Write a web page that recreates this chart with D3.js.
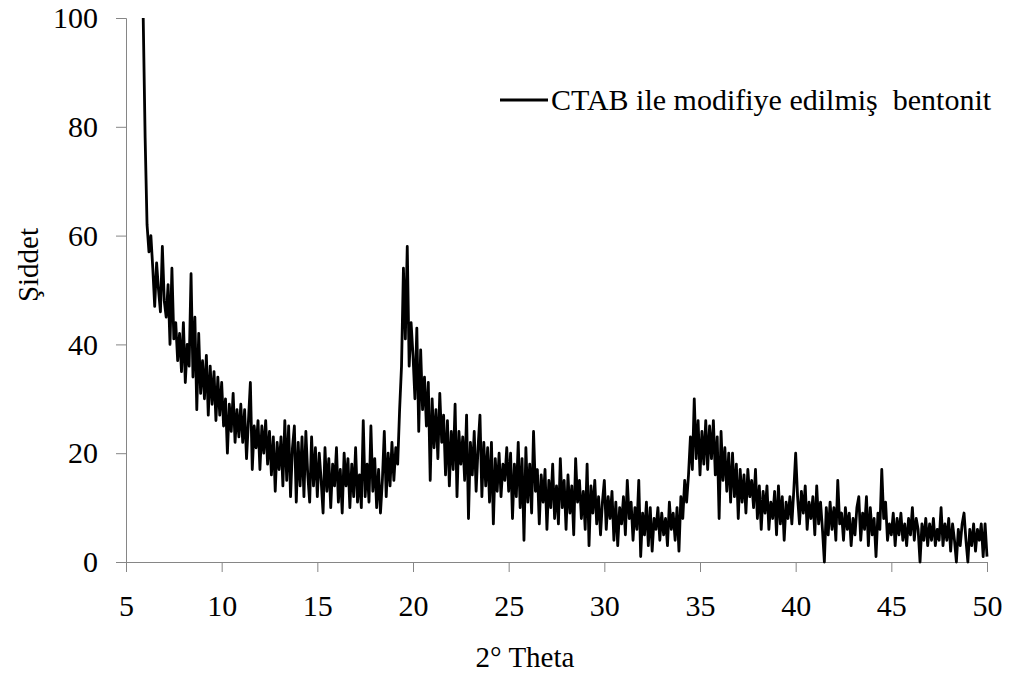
<!DOCTYPE html>
<html>
<head>
<meta charset="utf-8">
<script src="https://cdn.jsdelivr.net/npm/d3@7"></script>
<style>
  body { margin: 0; background: #fff; }
  text { font-family: "Liberation Serif", "Times New Roman", serif; fill: #000; }
</style>
</head>
<body>
<script>
"use strict";

// XRD scan, step 0.1 degree, intensities
var scanStep = 0.1;
var bandStarts = [5.9, 10, 15, 20, 25, 30, 35, 40, 45];

var band05 = [100, 78, 62, 57, 60, 54, 47, 55, 50, 46, 58,
  48, 45, 51, 40, 54, 41, 44, 37, 42, 35,
  44, 33, 40, 36, 53, 34, 45, 28, 42, 31,
  37, 30, 38, 27, 36, 29, 35, 26, 34, 27];
var band10 = [33, 25, 30, 20, 29, 24, 31, 22, 28, 23,
  29, 22, 28, 19, 26, 33, 17, 25, 21, 26,
  17, 25, 20, 26, 18, 24, 16, 23, 13, 22,
  17, 23, 14, 26, 15, 25, 12, 21, 25, 11,
  22, 14, 23, 12, 24, 16, 11, 23, 14, 21];
var band15 = [12, 20, 15, 9, 21, 13, 19, 10, 18, 14,
  21, 11, 17, 9, 20, 14, 19, 10, 18, 12,
  21, 11, 16, 10, 26, 12, 18, 11, 25, 13,
  19, 10, 17, 9, 15, 24, 12, 20, 14, 22,
  15, 21, 18, 28, 36, 54, 41, 58, 36, 44];
var band20 = [38, 30, 43, 24, 39, 28, 34, 25, 33, 15,
  30, 21, 28, 19, 31, 22, 27, 16, 26, 14,
  24, 17, 29, 12, 24, 18, 23, 15, 27, 8,
  22, 16, 24, 13, 21, 27, 12, 22, 14, 21,
  11, 22, 7, 19, 13, 20, 12, 18, 15, 21];
var band25 = [13, 20, 8, 18, 12, 22, 10, 19, 4, 21,
  11, 18, 9, 24, 13, 17, 7, 16, 11, 17,
  6, 15, 10, 18, 8, 14, 7, 19, 10, 15,
  6, 16, 9, 14, 5, 19, 11, 15, 8, 13,
  6, 18, 3, 14, 9, 15, 7, 12, 5, 11];
var band30 = [15, 6, 12, 8, 13, 4, 11, 3, 10, 7,
  12, 5, 15, 8, 11, 4, 10, 6, 15, 1,
  9, 5, 11, 3, 10, 2, 8, 6, 10, 4,
  9, 5, 8, 3, 11, 6, 9, 4, 10, 2,
  12, 8, 15, 11, 16, 23, 17, 30, 19, 26];
var band35 = [16, 24, 18, 26, 17, 25, 19, 26, 16, 23,
  8, 24, 15, 21, 13, 20, 11, 20, 12, 18,
  8, 17, 11, 16, 9, 17, 12, 15, 10, 17,
  8, 14, 6, 13, 9, 14, 6, 11, 8, 13,
  5, 14, 7, 12, 4, 11, 8, 12, 7, 13];
var band40 = [20, 12, 7, 13, 9, 14, 6, 11, 8, 12,
  5, 14, 7, 11, 6, 0, 10, 5, 11, 6,
  10, 4, 15, 7, 9, 4, 10, 6, 9, 3,
  8, 5, 10, 12, 4, 9, 6, 12, 3, 10,
  5, 8, 1, 9, 6, 17, 8, 11, 4, 7];
var band45 = [5, 9, 3, 8, 5, 9, 4, 7, 3, 8,
  5, 10, 4, 8, 6, 0, 7, 4, 8, 3,
  7, 4, 8, 3, 6, 4, 10, 3, 7, 4,
  8, 2, 7, 4, 0, 6, 3, 7, 9, 4,
  0, 6, 3, 7, 2, 6, 4, 7, 1, 7, 1];

var xTicks = [5, 10, 15, 20, 25, 30, 35, 40, 45, 50];
var yTicks = [0, 20, 40, 60, 80, 100];
var seriesName = "CTAB ile modifiye edilmiş  bentonit";

var bands = [band05, band10, band15, band20, band25, band30, band35, band40, band45];
var data = [];
bands.forEach(function (b, k) {
  b.forEach(function (v, i) {
    data.push([+(bandStarts[k] + i * scanStep).toFixed(2), v]);
  });
});

var width = 1009;
var height = 684;
var plotLeft = 126, plotRight = 987, plotTop = 18, plotBottom = 562;
var serif = '"Liberation Serif", "Times New Roman", serif';

var svg = d3.select("body").append("svg").attr("width", width).attr("height", height);

var xScale = d3.scaleLinear().domain([5, 50]).range([plotLeft, plotRight]);
var yScale = d3.scaleLinear().domain([0, 100]).range([plotBottom, plotTop]);

var axisColor = "#868686";

var xAxis = d3.axisBottom(xScale).tickValues(xTicks).tickSize(10).tickPadding(23);
var gx = svg.append("g").attr("transform", "translate(0," + plotBottom + ")").call(xAxis);
var yAxis = d3.axisLeft(yScale).tickValues(yTicks).tickSize(10).tickPadding(18);
var gy = svg.append("g").attr("transform", "translate(" + plotLeft + ",0)").call(yAxis);

[gx, gy].forEach(function (g) {
  g.attr("font-family", serif);
  g.select(".domain").attr("stroke", axisColor);
  g.selectAll(".tick line").attr("stroke", axisColor);
  g.selectAll("text").style("font-family", serif).style("font-size", "30px").attr("fill", "#000");
});

var line = d3.line().x(function (d) { return xScale(d[0]); }).y(function (d) { return yScale(d[1]); });

svg.append("path").datum(data).attr("d", line)
  .attr("fill", "none").attr("stroke", "#000").attr("stroke-width", 2.8).attr("stroke-linejoin", "round");

// axis titles
svg.append("text").attr("x", 525).attr("y", 667).attr("text-anchor", "middle")
  .style("font-family", serif).style("font-size", "29px").text("2° Theta");
svg.append("text").attr("transform", "translate(38,265) rotate(-90)").attr("text-anchor", "middle")
  .style("font-family", serif).style("font-size", "29px").text("Şiddet");

// legend
svg.append("line").attr("x1", 500).attr("x2", 548).attr("y1", 100).attr("y2", 100)
  .attr("stroke", "#000").attr("stroke-width", 2.8);
svg.append("text").attr("x", 551).attr("y", 110).style("font-family", serif).style("font-size", "30px")
  .style("white-space", "pre").text(seriesName);
</script>
</body>
</html>
